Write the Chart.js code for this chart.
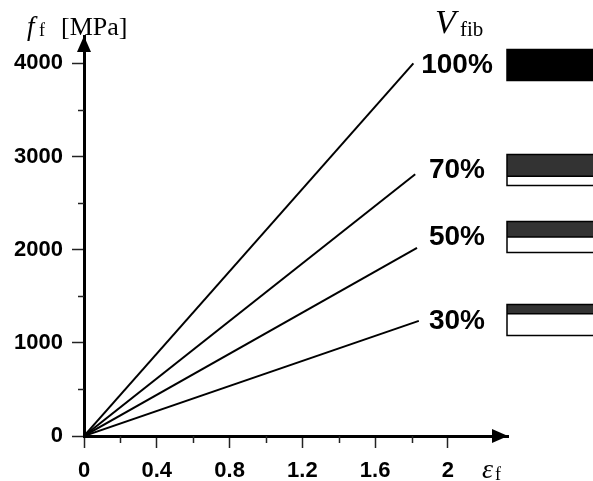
<!DOCTYPE html>
<html>
<head>
<meta charset="utf-8">
<script src="https://cdn.jsdelivr.net/npm/chart.js@4/dist/chart.umd.min.js"></script>
<style>
  html, body { margin: 0; padding: 0; background: #fff; }
  #wrap { width: 593px; height: 481px; }
</style>
</head>
<body>
<div id="wrap"><canvas id="myChart"></canvas></div>
<script>
// fibre volume fraction curves, stress f_f vs strain eps_f
const vfibLabels = ['100%', '70%', '50%', '30%'];
const vfibFraction = [1.0, 0.7, 0.5, 0.3];
const endStrain = [1.81, 1.82, 1.83, 1.84];
const endStress = [4000, 2810, 2020, 1235];
// where the % labels and bars sit (MPa)
const labelStress = [3990, 2865, 2145, 1245];
// axis ticks
const xTicks = [0, 0.4, 0.8, 1.2, 1.6, 2];
const yTicks = [0, 1000, 2000, 3000, 4000];

const FONT_SANS = '"Liberation Sans", Arial, sans-serif';
const FONT_SERIF = '"Liberation Serif", "Times New Roman", serif';

document.addEventListener('DOMContentLoaded', (event) => {
    Chart.defaults.color = '#000';

    const datasets = vfibLabels.map((lbl, i) => ({
        label: lbl,
        data: [{ x: 0, y: 0 }, { x: endStrain[i], y: endStress[i] }],
        showLine: true,
        borderColor: '#000',
        borderWidth: 2,
        pointRadius: 0
    }));

    // arrows, minor ticks, labels, the little V_fib bars
    const decoPlugin = {
        id: 'deco',
        afterDraw(chart) {
            const { ctx, chartArea: a, scales: { x, y } } = chart;
            ctx.save();
            ctx.strokeStyle = '#222';
            ctx.lineWidth = 1.5;

            // minor ticks half-way between the major ones
            for (let i = 0; i < xTicks.length - 1; i++) {
                const px = Math.round(x.getPixelForValue((xTicks[i] + xTicks[i + 1]) / 2)) + 0.5;
                ctx.beginPath();
                ctx.moveTo(px, a.bottom);
                ctx.lineTo(px, a.bottom + 7);
                ctx.stroke();
            }
            for (let i = 0; i < yTicks.length; i++) {
                const v = yTicks[i] + 500;
                if (v > y.max) break;
                const py = Math.round(y.getPixelForValue(v)) + 0.5;
                ctx.beginPath();
                ctx.moveTo(a.left - 6, py);
                ctx.lineTo(a.left, py);
                ctx.stroke();
            }

            // arrow heads
            ctx.fillStyle = '#000';
            ctx.beginPath();
            ctx.moveTo(a.left, a.top);
            ctx.lineTo(a.left - 7, a.top + 16);
            ctx.lineTo(a.left + 7, a.top + 16);
            ctx.closePath();
            ctx.fill();
            ctx.beginPath();
            ctx.moveTo(a.right, a.bottom);
            ctx.lineTo(a.right - 16, a.bottom - 7);
            ctx.lineTo(a.right - 16, a.bottom + 7);
            ctx.closePath();
            ctx.fill();

            // axis titles
            ctx.textBaseline = 'alphabetic';
            ctx.textAlign = 'left';
            ctx.font = 'italic 27px ' + FONT_SERIF;
            ctx.fillText('f', 27, 35);
            ctx.font = '18px ' + FONT_SERIF;
            ctx.fillText('f', 39, 36);
            ctx.font = '26px ' + FONT_SERIF;
            ctx.fillText('[MPa]', 61, 35);

            ctx.font = 'italic 34px ' + FONT_SERIF;
            ctx.fillText('V', 435, 33);
            ctx.font = '21px ' + FONT_SERIF;
            ctx.fillText('fib', 460, 36);

            ctx.font = 'italic 28px ' + FONT_SERIF;
            ctx.fillText('\u03B5', 482, 478);
            ctx.font = '18px ' + FONT_SERIF;
            ctx.fillText('f', 495, 480);

            // V_fib labels and bars
            vfibLabels.forEach((lbl, i) => {
                const cy = y.getPixelForValue(labelStress[i]);
                ctx.font = 'bold 28px ' + FONT_SANS;
                ctx.textAlign = 'center';
                ctx.textBaseline = 'middle';
                ctx.fillStyle = '#000';
                ctx.fillText(lbl, a.right - 51, cy + 1);

                const bx = a.right - 1, bw = 100, bh = 31;
                const by = Math.round(cy - bh / 2) + 0.5;
                const dark = vfibFraction[i] * bh;
                ctx.fillStyle = '#fff';
                ctx.fillRect(bx, by, bw, bh);
                ctx.fillStyle = vfibFraction[i] >= 1 ? '#000' : '#333';
                ctx.fillRect(bx, by, bw, dark);
                ctx.strokeStyle = '#000';
                ctx.lineWidth = 1.5;
                ctx.strokeRect(bx, by, bw, bh);
                if (vfibFraction[i] < 1) {
                    ctx.beginPath();
                    ctx.moveTo(bx, by + dark);
                    ctx.lineTo(bx + bw, by + dark);
                    ctx.stroke();
                }
            });
            ctx.restore();
        }
    };

    const ctx1 = document.getElementById('myChart').getContext('2d');
    const myChart = new Chart(ctx1, {
        type: 'scatter',
        data: { datasets: datasets },
        options: {
            responsive: true,
            maintainAspectRatio: false,
            animation: false,
            layout: { padding: { left: 0, right: 85, top: 36, bottom: 0 } },
            scales: {
                x: {
                    type: 'linear',
                    min: 0,
                    max: 2.33,
                    afterFit: (scale) => { scale.height = 45; },
                    afterBuildTicks: (scale) => { scale.ticks = xTicks.map(v => ({ value: v })); },
                    ticks: {
                        maxRotation: 0,
                        autoSkip: false,
                        padding: 10,
                        callback: (value) => String(+Number(value).toFixed(1)),
                        font: { family: FONT_SANS, size: 22, weight: 'bold' }
                    },
                    grid: {
                        drawOnChartArea: false,
                        tickLength: 12,
                        tickColor: '#222',
                        tickWidth: 1.5
                    },
                    border: { display: true, color: '#000', width: 3 }
                },
                y: {
                    type: 'linear',
                    min: 0,
                    max: 4293,
                    afterFit: (scale) => { scale.width = 84; },
                    afterBuildTicks: (scale) => { scale.ticks = yTicks.map(v => ({ value: v })); },
                    ticks: {
                        autoSkip: false,
                        padding: 9,
                        callback: (value) => String(value),
                        font: { family: FONT_SANS, size: 22, weight: 'bold' }
                    },
                    grid: {
                        drawOnChartArea: false,
                        tickLength: 12,
                        tickColor: '#222',
                        tickWidth: 1.5
                    },
                    border: { display: true, color: '#000', width: 3 }
                }
            },
            plugins: {
                legend: { display: false },
                tooltip: { enabled: false },
                title: { display: false }
            }
        },
        plugins: [decoPlugin]
    });
});
</script>
</body>
</html>
